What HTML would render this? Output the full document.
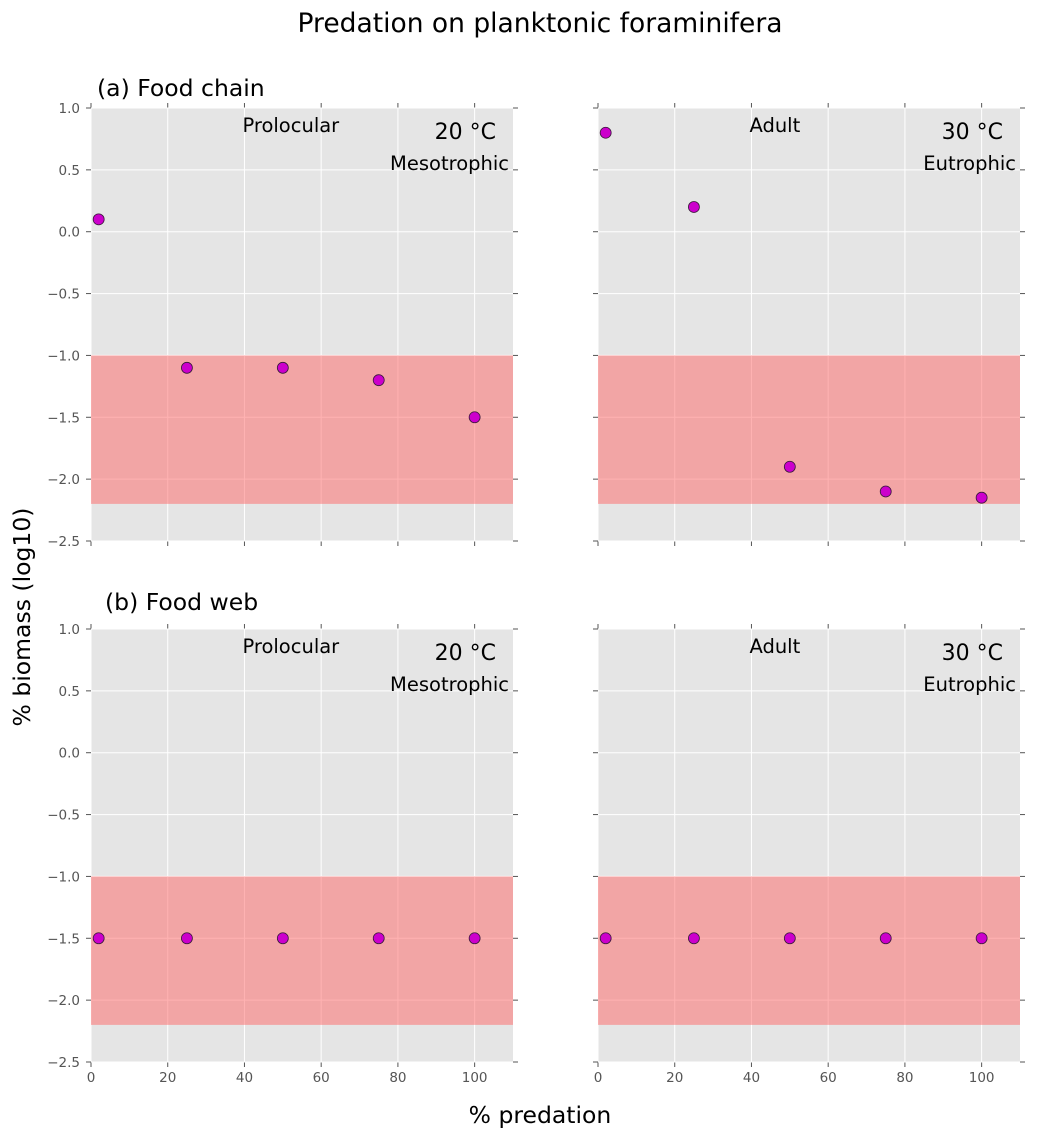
<!DOCTYPE html>
<html><head><meta charset="utf-8">
<style>
html,body{margin:0;padding:0;background:#fff;}
svg{display:block;font-family:"DejaVu Sans","Liberation Sans",sans-serif;}
</style></head>
<body>
<svg id="fig" width="1039" height="1140" viewBox="0 0 1039 1140">
  <text x="540" y="32" font-size="26.5" text-anchor="middle" fill="#000">Predation on planktonic foraminifera</text>
  <text x="97" y="96" font-size="23.5" fill="#000">(a) Food chain</text>
  <text x="105" y="610" font-size="23.5" fill="#000">(b) Food web</text>
  <text x="540" y="1123" font-size="23.5" text-anchor="middle" fill="#000">% predation</text>
  <text x="30" y="617" font-size="23.5" text-anchor="middle" fill="#000" transform="rotate(-90 30 617)">% biomass (log10)</text>
</svg>
<script>
const xCats = [2, 25, 50, 75, 100];
const chainProlocular = [0.1, -1.1, -1.1, -1.2, -1.5];
const chainAdult = [0.8, 0.2, -1.9, -2.1, -2.15];
const webProlocular = [-1.5, -1.5, -1.5, -1.5, -1.5];
const webAdult = [-1.5, -1.5, -1.5, -1.5, -1.5];
const xTicks = [0, 20, 40, 60, 80, 100];
const yTicks = [1.0, 0.5, 0.0, -0.5, -1.0, -1.5, -2.0, -2.5];
const bandRange = [-2.2, -1.0];

const NS = 'http://www.w3.org/2000/svg';
const svg = document.getElementById('fig');
function mk(tag, attrs, parent){
  const e = document.createElementNS(NS, tag);
  for (const k in attrs) e.setAttribute(k, attrs[k]);
  (parent||svg).appendChild(e);
  return e;
}
const panels = [
  {l:91, t:108, data:chainProlocular, stage:'Prolocular', temp:'20', troph:'Mesotrophic', yl:true, xl:false, name:'chain-prolocular'},
  {l:598, t:108, data:chainAdult, stage:'Adult', temp:'30', troph:'Eutrophic', yl:false, xl:false, name:'chain-adult'},
  {l:91, t:629, data:webProlocular, stage:'Prolocular', temp:'20', troph:'Mesotrophic', yl:true, xl:true, name:'web-prolocular'},
  {l:598, t:629, data:webAdult, stage:'Adult', temp:'30', troph:'Eutrophic', yl:false, xl:true, name:'web-adult'}
];
const W = 422, H = 433;
panels.forEach(p => {
  const xs = v => p.l + v / 110 * W;
  const ys = v => p.t + (1.0 - v) / 3.5 * H;
  const g = mk('g', {});
  
  
  const bg = mk('rect', {x:p.l, y:p.t, width:W, height:H, fill:'#e5e5e5'}, g);
  
  
  xTicks.forEach(v => {
    const ln = mk('line', {x1:xs(v), x2:xs(v), y1:p.t, y2:p.t+H, stroke:'#fff', 'stroke-width':1}, g);
    
    
    mk('line', {x1:xs(v), x2:xs(v), y1:p.t+H, y2:p.t+H+5, stroke:'#555'}, g);
    mk('line', {x1:xs(v), x2:xs(v), y1:p.t-5, y2:p.t, stroke:'#555'}, g);
    if (p.xl) {
      const t = mk('text', {x:xs(v), y:p.t+H+20, 'font-size':13.5, fill:'#555', 'text-anchor':'middle'}, g);
      t.textContent = v;
      
      
    }
  });
  yTicks.forEach(v => {
    const ln = mk('line', {x1:p.l, x2:p.l+W, y1:ys(v), y2:ys(v), stroke:'#fff', 'stroke-width':1}, g);
    
    
    mk('line', {x1:p.l-5, x2:p.l, y1:ys(v), y2:ys(v), stroke:'#555'}, g);
    mk('line', {x1:p.l+W, x2:p.l+W+5, y1:ys(v), y2:ys(v), stroke:'#555'}, g);
    if (p.yl) {
      const t = mk('text', {x:p.l-11, y:ys(v)+5, 'font-size':13.5, fill:'#555', 'text-anchor':'end'}, g);
      t.textContent = (v < 0 ? '\u2212' : '') + Math.abs(v).toFixed(1);
      
      
    }
  });
  const band = mk('rect', {x:p.l, y:ys(bandRange[1]), width:W, height:ys(bandRange[0])-ys(bandRange[1]), fill:'#ff6666', 'fill-opacity':0.5}, g);
  
  
  p.data.forEach((v, i) => {
    const c = mk('circle', {cx:xs(xCats[i]), cy:ys(v), r:5.5, fill:'#cc00cc', stroke:'#3a1a3a', 'stroke-width':0.8}, g);
    
    
  });
  const s = mk('text', {x:xs(40)-2, y:p.t+24, 'font-size':19.5, fill:'#000', 'text-anchor':'start'}, g);
  s.textContent = p.stage;
  
  
  const tt = mk('text', {x:p.l+W-17, y:p.t+31, 'font-size':22, fill:'#000', 'text-anchor':'end'}, g);
  tt.textContent = p.temp + ' \u00b0C';
  
  
  const tr = mk('text', {x:p.l+W-4, y:p.t+62, 'font-size':19.5, fill:'#000', 'text-anchor':'end'}, g);
  tr.textContent = p.troph;
  
  
});
</script>
</body></html>
